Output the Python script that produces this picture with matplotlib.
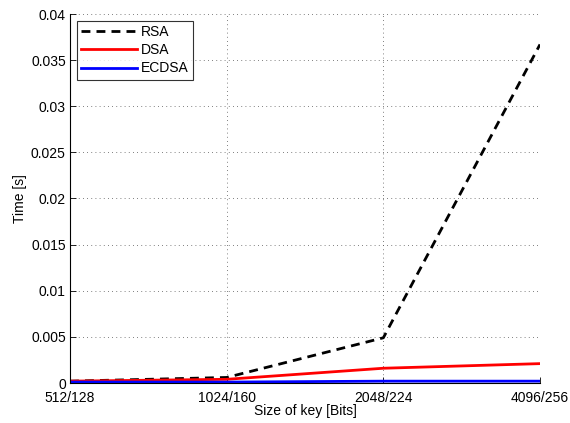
import matplotlib
matplotlib.use("Agg")
import matplotlib.pyplot as plt

plt.rcParams['font.family'] = ['Liberation Sans', 'DejaVu Sans']

key_sizes = ["512/128", "1024/160", "2048/224", "4096/256"]
rsa = [0.0002, 0.0006, 0.0049, 0.0367]
dsa = [0.0002, 0.0004, 0.0016, 0.0021]
ecdsa = [0.0001, 0.0001, 0.0002, 0.0002]

fig = plt.figure(figsize=(5.7, 4.23), dpi=100)
ax = fig.add_axes([70 / 570, (423 - 383) / 423, 470 / 570, 369 / 423])

x = list(range(len(key_sizes)))
ax.plot(x, rsa, color='black', linestyle=(0, (3.2, 2.2)), linewidth=2, label='RSA')
ax.plot(x, dsa, color='red', linewidth=2, label='DSA')
ax.plot(x, ecdsa, color='blue', linewidth=2, label='ECDSA')

ax.set_xlim(0, 3)
ax.set_ylim(0, 0.04)
ax.set_xticks(x)
ax.set_xticklabels(key_sizes)
ax.set_yticks([i * 0.005 for i in range(9)])
ax.set_yticklabels(['0', '0.005', '0.01', '0.015', '0.02', '0.025', '0.03', '0.035', '0.04'])

ax.grid(True, color='#555555', linestyle=(0, (1, 4)), linewidth=0.6)
for side in ('top', 'right'):
    ax.spines[side].set_visible(False)
for side in ('left', 'bottom'):
    ax.spines[side].set_linewidth(0.8)
ax.tick_params(direction='in', length=4, labelsize=10, width=0.6)
ax.tick_params(axis='y', pad=3)
ax.tick_params(axis='x', pad=6)

ax.set_xlabel('Size of key [Bits]', fontsize=10, labelpad=-1)
ax.set_ylabel('Time [s]', fontsize=10, labelpad=3)

leg = ax.legend(loc='upper left', fontsize=10, frameon=True, fancybox=False,
                edgecolor='black', handlelength=4.0, borderpad=0.3,
                labelspacing=0.3, handletextpad=0.3, borderaxespad=0.5)
leg.get_frame().set_linewidth(0.8)

fig.savefig('out.png', dpi=100)
